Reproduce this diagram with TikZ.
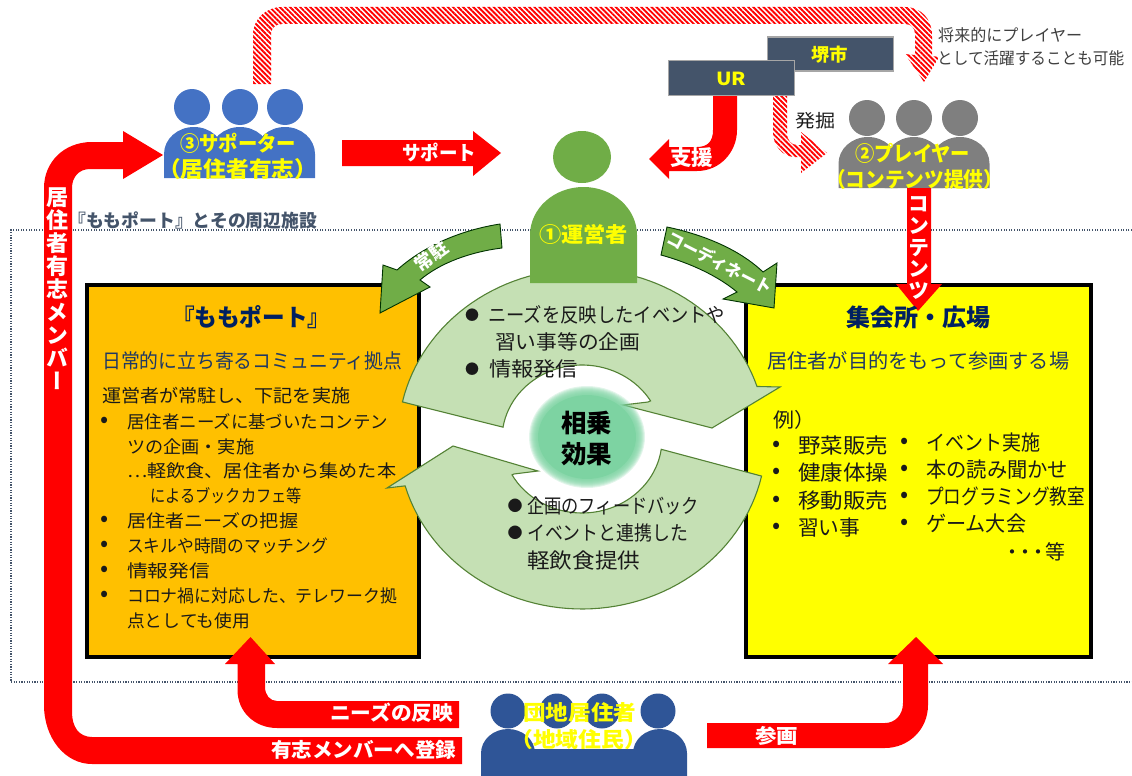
\documentclass[tikz,border=0pt]{standalone}
\usepackage{fontspec}
\usepackage{graphicx}
\usetikzlibrary{patterns.meta}
\setmainfont{Noto Sans CJK JP}
\newfontfamily\vjp[RawFeature=+vert]{Noto Sans CJK JP}
\definecolor{navy}{HTML}{002060}
\definecolor{subnavy}{HTML}{1F3864}
\definecolor{ink}{HTML}{1A1A1A}
\definecolor{slate}{HTML}{44546A}
\definecolor{lgreen}{HTML}{C5E0B4}
\definecolor{egreen}{HTML}{548235}
\definecolor{mgreen}{HTML}{70AD47}
\definecolor{pblue}{HTML}{4472C4}
\definecolor{dblue}{HTML}{2F5597}
\definecolor{pgray}{HTML}{7F7F7F}
\definecolor{halo}{HTML}{7DD3A2}
\definecolor{yel}{HTML}{FFFF00}
\definecolor{amber}{HTML}{FFC000}
\definecolor{pure}{HTML}{FF0000}
\newcounter{tn}
% fit text between x1 and x2, vertically centred on y
\newcommand{\fit}[6]{%
  \stepcounter{tn}%
  \pgfmathsetmacro\fitw{#2-#1}%
  \node[anchor=west,inner sep=0pt,name=t\arabic{tn},#5] at (#1,#3)
    {\resizebox{\fitw pt}{\height}{\fontsize{#4}{#4}\selectfont\vphantom{国}#6}};%
}
\newcommand{\bul}[4]{%
  \stepcounter{tn}%
  \node[inner sep=0pt,text=ink,name=t\arabic{tn}] at (#1,#2) {\fontsize{#3}{#3}\selectfont #4};%
}
\newcommand{\pbody}[5]{% xcentre, rx, top, bottom, colour
  \fill[#5] ({#1-#2},#4) -- ({#1-#2},{#3+.9*#2})
    .. controls ({#1-#2},{#3+.4*#2}) and ({#1-.55*#2},#3) .. (#1,#3)
    .. controls ({#1+.55*#2},#3) and ({#1+#2},{#3+.4*#2}) .. ({#1+#2},{#3+.9*#2})
    -- ({#1+#2},#4) -- cycle;%
}
\tikzset{
  redarrow/.style={fill=pure},
  hatch/.style={pattern={Lines[angle=-45,distance=3.6pt,line width=1.9pt]},pattern color=pure},
  greenarrow/.style={fill=mgreen,draw=black!80!green,line width=.9pt,line join=miter},
  cycarrow/.style={fill=lgreen,draw=egreen,line width=1.1pt,line join=miter},
  orgbox/.style={fill=slate,draw=black!35,line width=1.6pt},
  mainbox/.style={draw=black,line width=4pt},
  yl/.style={text=yel,font=\bfseries},
  wh/.style={text=white,font=\bfseries},
  bk/.style={text=ink},
}
\begin{document}
\begin{tikzpicture}[x=1pt,y=-1pt]
\useasboundingbox (0,0) rectangle (1132,776);
% dotted area
\draw[slate,line width=1.2pt,dash pattern=on 1.1pt off 1.5pt] (1132,230) -- (11,230) -- (11,682) -- (1132,682);
\fit{68}{317}{221}{18}{text=slate,font=\bfseries}{『ももポート』とその周辺施設}
% main boxes
\path[mainbox,fill=amber] (87,285) rectangle (419,657);
\path[mainbox,fill=yel] (746,285) rectangle (1091,657);
% top hatched arrow
\fill[hatch] (253,84) -- (253,35) .. controls (253,19) and (266,7) .. (282,7) -- (905,7)
  .. controls (921,7) and (932,19) .. (932,35) -- (932,56) -- (939,57) -- (924,82) -- (905,54) -- (915,55) -- (915,34)
  .. controls (915,28) and (911,24) .. (905,24) -- (282,24) .. controls (276,24) and (271,28) .. (271,34) -- (271,84) -- cycle;
% hatched arrow to players, support arrow
\fill[hatch] (773,96) -- (773,132) .. controls (773,146) and (783,157) .. (795,157) -- (801,157) -- (801,173) -- (827,153) -- (801,132) -- (801,145) -- (797,145) .. controls (791,145) and (787,140) .. (787,133) -- (787,96) -- cycle;
\fill[redarrow] (713,96) -- (713,130) .. controls (713,141) and (708,147) .. (697,147) -- (669,147) -- (669,139) -- (649,159) -- (669,179) -- (669,171) -- (697,171) .. controls (720,171) and (737,152) .. (737,130) -- (737,96) -- cycle;
% org boxes
\node[orgbox,minimum width=126pt,minimum height=34pt,inner sep=0pt] (sakai) at (830.5,54) {};
\node[orgbox,minimum width=126pt,minimum height=35pt,inner sep=0pt] (ur) at (731.5,78) {};
\fit{811}{848}{55}{18}{yl}{堺市}
\fit{716}{746}{79}{18}{yl}{UR}
\fit{795}{835}{121}{18}{bk}{発掘}
\fit{938}{1082}{35}{16.5}{text=black!75}{将来的にプレイヤー}
\fit{937}{1124}{58}{16.5}{text=black!75}{として活躍することも可能}
% support arrow
\fill[redarrow] (342,140) -- (473,140) -- (473,131) -- (501,153) -- (473,176) -- (473,166) -- (342,166) -- cycle;
\fit{402}{476}{153}{20}{wh}{サポート}
\fit{670}{713}{158}{21}{wh}{支援}
% cycle arrows
\path[cycarrow] plot[domain=167.4:18,samples=60] ({582+184*cos(\x)},{439-170*sin(\x)})
  -- (780,387) -- (712,428) -- (623,405) -- (648,402)
  -- plot[domain=31:170.8,samples=40] ({582+80*cos(\x)},{439-74*sin(\x)}) -- cycle;
\path[cycarrow] plot[domain=-12.6:-164,samples=60] ({582+184*cos(\x)},{439-170*sin(\x)})
  -- (387,488) -- (453,446) -- (538,471) -- (514,474)
  -- plot[domain=-151:-8,samples=40] ({582+80*cos(\x)},{439-74*sin(\x)}) -- cycle;
% synergy halo
\foreach \d in {0,1,...,8} {\fill[halo,fill opacity=.22] (587,437) ellipse ({58-\d} and {51-\d});}
\fill[halo] (587,437) ellipse (49 and 42);
\fit{561}{612}{423}{25}{text=black,font=\bfseries}{相乗}
\fit{561}{612}{454}{25}{text=black,font=\bfseries}{効果}
% operator
\fill[mgreen] (582,157) ellipse (29 and 26);
\pbody{583.5}{53.5}{187}{283}{mgreen}
\fit{539}{628}{234}{21}{yl}{①運営者}
% green curved arrows
\path[greenarrow] (500,224) -- (502,248) .. controls (470,252) and (440,263) .. (420,280) -- (430,287) -- (380,313) -- (383,265) -- (397,270) .. controls (425,245) and (462,230) .. (500,224) -- cycle;
\path[greenarrow] (667,227) -- (661,255) .. controls (690,263) and (718,276) .. (737,292) -- (723,299) -- (774,308) -- (777,263) -- (763,272) .. controls (740,250) and (705,235) .. (667,227) -- cycle;
\node[rotate=36,inner sep=0pt,text=white,font=\bfseries] (jochu) at (431,256) {\fontsize{18}{18}\selectfont 常駐};
\node[rotate=-27,inner sep=0pt,text=white,font=\bfseries] (coord) at (720,263) {\resizebox{116pt}{\height}{\fontsize{17}{17}\selectfont コーディネート}};
% supporters
\foreach \x in {192,240,285} {\fill[pblue] (\x,107) circle (18);}
\foreach \x in {194,240,285} {\pbody{\x}{30}{127}{178}{pblue}}
\fit{180}{296}{143}{21}{yl}{③サポーター}
\fit{158}{317}{169}{22}{yl}{（居住者有志）}
% players
\foreach \x in {867,914,960} {\fill[pgray] (\x,118) circle (18);}
\foreach \x in {868,914,960} {\pbody{\x}{29.5}{137}{188}{pgray}}
\fit{855}{970}{153}{21}{yl}{②プレイヤー}
\fit{826}{1003}{180}{21}{yl}{（コンテンツ提供）}
% contents arrow
\fill[redarrow] (907,188) -- (931,188) -- (931,284) -- (942,284) -- (918,311) -- (896,284) -- (907,284) -- cycle;
\node[inner sep=0pt,text=white,align=center,font={\vjp\bfseries\fontsize{21}{21.6}\selectfont}] (contents) at (919,248)
  {コ\\ン\\テ\\ン\\ツ};
% big left arrow
\fill[redarrow] (462,737) -- (92,737) .. controls (79,737) and (72,727) .. (72,712) -- (72,188) .. controls (72,177) and (79,169) .. (90,169) -- (123,169) -- (123,179) -- (163,155) -- (123,131) -- (123,142) -- (92,142) .. controls (64,142) and (44,162) .. (44,188) -- (44,705) .. controls (44,738) and (65,764) .. (92,764) -- (462,764) -- cycle;
\node[inner sep=0pt,text=white,align=center,font={\vjp\bfseries\fontsize{22}{23}\selectfont}] (member) at (57.5,289)
  {居\\住\\者\\有\\志\\メ\\ン\\バ\\ー};
\fit{271}{456}{750}{20}{wh}{有志メンバーへ登録}
% needs arrow
\fill[redarrow] (459,701) -- (277,701) .. controls (270,701) and (265,695) .. (265,687) -- (265,664) -- (275,664) -- (250.5,637) -- (225,664) -- (237.5,664) -- (237.5,690) .. controls (237.5,712) and (255,728) .. (277,728) -- (459,728) -- cycle;
\fit{330}{453}{713}{20}{wh}{ニーズの反映}
% join arrow
\fill[redarrow] (707,723) -- (885,723) .. controls (895,723) and (903,715) .. (903,703) -- (903,664) -- (888,664) -- (916,637) -- (943,664) -- (928,664) -- (928,705) .. controls (928,730) and (908,748) .. (885,748) -- (707,748) -- cycle;
\fit{755}{798}{736}{20}{wh}{参画}
% residents
\foreach \x in {508,557,602,658} {\fill[dblue] (\x,711) circle (17.5);}
\pbody{508}{27}{729}{776}{dblue}
\pbody{660}{27}{729}{776}{dblue}
\fill[dblue] (530,749) rectangle (640,776);
\fit{523}{636}{713}{21}{yl}{団地居住者}
\fit{510}{647}{740}{21}{yl}{（地域住民）}
% left box text
\fit{172}{330}{317}{24}{text=navy,font=\bfseries}{『ももポート』}
\fit{102}{402}{361}{20}{text=subnavy}{日常的に立ち寄るコミュニティ拠点}
\fit{102}{350}{396}{18}{bk}{運営者が常駐し、下記を実施}
\bul{105}{422}{24}{•}
\fit{127}{388}{422}{17.5}{bk}{居住者ニーズに基づいたコンテン}
\fit{127}{254}{447}{17.5}{bk}{ツの企画・実施}
\fit{127}{396}{471}{17.5}{bk}{…軽飲食、居住者から集めた本}
\fit{150}{302}{496}{17.5}{bk}{によるブックカフェ等}
\bul{105}{521}{24}{•}
\fit{127}{298}{521}{17.5}{bk}{居住者ニーズの把握}
\bul{105}{546}{24}{•}
\fit{127}{328}{546}{17.5}{bk}{スキルや時間のマッチング}
\bul{105}{571}{24}{•}
\fit{127}{210}{571}{17.5}{bk}{情報発信}
\bul{105}{596}{24}{•}
\fit{127}{397}{596}{17.5}{bk}{コロナ禍に対応した、テレワーク拠}
\fit{127}{250}{621}{17.5}{bk}{点としても使用}
% right box text
\fit{846}{990}{317}{24}{text=navy,font=\bfseries}{集会所・広場}
\fit{767}{1069}{361}{20}{text=subnavy}{居住者が目的をもって参画する場}
\fit{773}{815}{420}{20}{bk}{例）}
\bul{777}{446}{24}{•}
\fit{798}{888}{446}{21}{bk}{野菜販売}
\bul{777}{473}{24}{•}
\fit{798}{888}{473}{21}{bk}{健康体操}
\bul{777}{501}{24}{•}
\fit{798}{888}{501}{21}{bk}{移動販売}
\bul{777}{528}{24}{•}
\fit{798}{860}{528}{21}{bk}{習い事}
\bul{905}{443}{24}{•}
\fit{926}{1040}{443}{21}{bk}{イベント実施}
\bul{905}{470}{24}{•}
\fit{926}{1068}{470}{21}{bk}{本の読み聞かせ}
\bul{905}{497}{24}{•}
\fit{926}{1085}{497}{21}{bk}{プログラミング教室}
\bul{905}{524}{24}{•}
\fit{926}{1026}{524}{21}{bk}{ゲーム大会}
\fit{1002}{1065}{552}{20}{bk}{・\kern-7pt・\kern-7pt・\kern-3pt等}
% centre text
\bul{472}{315}{14}{●}
\fit{488}{725}{315}{20}{bk}{ニーズを反映したイベントや}
\fit{495}{640}{342}{20}{bk}{習い事等の企画}
\bul{472}{369}{14}{●}
\fit{489}{578}{369}{20}{bk}{情報発信}
\bul{515}{506}{15}{●}
\fit{527}{699}{506}{20}{bk}{企画のフィードバック}
\bul{515}{533}{15}{●}
\fit{527}{688}{533}{20}{bk}{イベントと連携した}
\fit{527}{640}{561}{21}{bk}{軽飲食提供}
\end{tikzpicture}
\end{document}
